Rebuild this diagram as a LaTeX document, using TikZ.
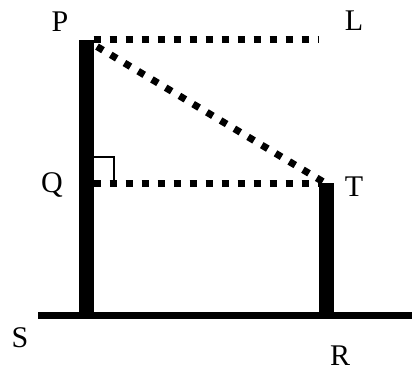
\documentclass[tikz,border=0pt]{standalone}
\usepackage{fontspec}
\setmainfont{Liberation Serif}
\begin{document}
\begin{tikzpicture}[x=1pt,y=-1pt,
  pole/.style={line width=15pt,line cap=butt},
  ground/.style={line width=7pt,line cap=butt},
  dots/.style={line width=7pt,line cap=butt,dash pattern=on 7pt off 9pt},
  rmark/.style={line width=2.5pt},
  lbl/.style={anchor=base,inner sep=0pt,font=\fontsize{30}{36}\selectfont}]
\useasboundingbox (0,0) rectangle (412,371);
% key points
\coordinate (P) at (86,40);
\coordinate (L) at (318,40);
\coordinate (Q) at (86,183.5);
\coordinate (T) at (326,183.5);
\coordinate (P2) at (97,46.6);
\coordinate (PB) at (86,319);
\coordinate (TB) at (326,319);
\coordinate (G0) at (38,315.5);
\coordinate (G1) at (412,315.5);
\coordinate (M0) at (93,157);
\coordinate (M1) at (114,157);
\coordinate (M2) at (114,183.5);
% ground and poles
\draw[ground] (G0) -- (G1);
\draw[pole] (P) -- (PB);
\draw[pole] (T) -- (TB);
% dotted sight lines
\draw[dots,dash phase=0pt] ([xshift=7.5pt]P) -- (L);
\draw[dots] (P2) -- (T);
\draw[dots,dash phase=0pt] ([xshift=7.5pt]Q) -- ([xshift=-7.5pt]T);
% right-angle mark
\draw[rmark] (M0) -- (M1) -- (M2);
% labels
\node[lbl] (lP) at (60,32) {P};
\node[lbl] (lL) at (354,31) {L};
\node[lbl] (lQ) at (52,193) {Q};
\node[lbl] (lT) at (354,197) {T};
\node[lbl] (lS) at (20,347) {S};
\node[lbl] (lR) at (340,365) {R};
\end{tikzpicture}
\end{document}
